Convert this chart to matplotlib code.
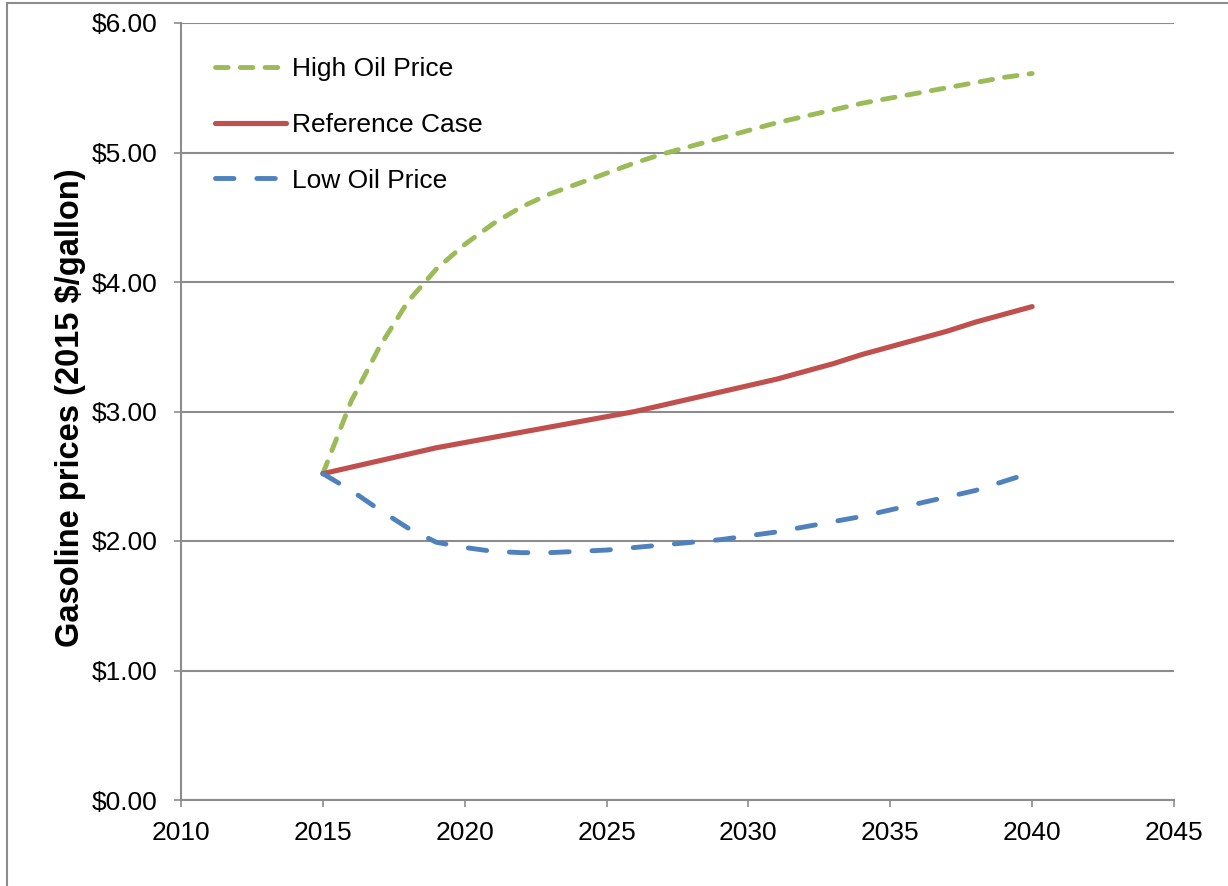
import matplotlib.pyplot as plt
from matplotlib.lines import Line2D
from matplotlib.ticker import FuncFormatter

plt.rcParams['font.family'] = ['Liberation Sans', 'DejaVu Sans']

# annual projections, 2015 $/gallon
years = list(range(2015, 2041))
high_oil = [2.52, 3.08, 3.50, 3.85, 4.10, 4.29, 4.45, 4.58, 4.68, 4.76,
            4.84, 4.92, 4.99, 5.05, 5.11, 5.17, 5.23, 5.28, 5.33, 5.38,
            5.42, 5.46, 5.50, 5.54, 5.58, 5.61]
reference = [2.52, 2.57, 2.62, 2.67, 2.72, 2.76, 2.80, 2.84, 2.88, 2.92,
             2.96, 3.00, 3.05, 3.10, 3.15, 3.20, 3.25, 3.31, 3.37, 3.44,
             3.50, 3.56, 3.62, 3.69, 3.75, 3.81]
low_oil = [2.52, 2.39, 2.24, 2.10, 1.99, 1.95, 1.92, 1.91, 1.91, 1.92,
           1.93, 1.95, 1.97, 1.99, 2.01, 2.04, 2.07, 2.11, 2.15, 2.19,
           2.24, 2.29, 2.34, 2.39, 2.46, 2.53]

fig = plt.figure(figsize=(12.28, 8.86), dpi=100)
ax = fig.add_axes([181 / 1228, 1 - 800 / 886, 993 / 1228, 777 / 886])

grid_c = '#8c8c8c'
ax.plot(years, high_oil, color='#9BBB59', lw=3.5, dashes=(2.6, 2.5),
        dash_capstyle='round', label='High Oil Price')
ax.plot(years, reference, color='#C0504D', lw=3.7, solid_capstyle='round',
        solid_joinstyle='round', label='Reference Case')
ax.plot(years, low_oil, color='#4F81BD', lw=3.5, dashes=(3.8, 4.7),
        dash_capstyle='round', label='Low Oil Price')

ax.set_xlim(2010, 2045)
ax.set_ylim(0, 6)
ax.set_xticks(range(2010, 2046, 5))
ax.set_yticks(range(0, 7))
ax.yaxis.set_major_formatter(FuncFormatter(lambda v, p: f'${v:.2f}'))
ax.grid(axis='y', color=grid_c, lw=1.5)
ax.set_axisbelow(True)

for s in ['top', 'right']:
    ax.spines[s].set_visible(False)
for s in ['left', 'bottom']:
    ax.spines[s].set_color(grid_c)
    ax.spines[s].set_linewidth(1.5)
ax.tick_params(axis='both', colors=grid_c, labelcolor='black', labelsize=19,
               length=5, width=1.2)
ax.tick_params(axis='y', pad=12)
ax.tick_params(axis='x', pad=10)

ax.set_ylabel('Gasoline prices (2015 $/gallon)', fontsize=23.5, fontweight='bold')
ax.yaxis.set_label_coords(-0.096, 0.505)

ax.legend(loc='upper left', bbox_to_anchor=(0.034, 0.956), frameon=False,
          fontsize=19, handlelength=2.7, handletextpad=0.23, labelspacing=1.2,
          borderpad=0, borderaxespad=0)

# outer chart-area frame
fig.add_artist(Line2D([7 / 1228, 7 / 1228], [0, 1 - 3 / 886],
                      color=grid_c, lw=1.5))
fig.add_artist(Line2D([7 / 1228, 1], [1 - 3 / 886, 1 - 3 / 886],
                      color=grid_c, lw=1.5))

fig.savefig('out.png', dpi=100)
